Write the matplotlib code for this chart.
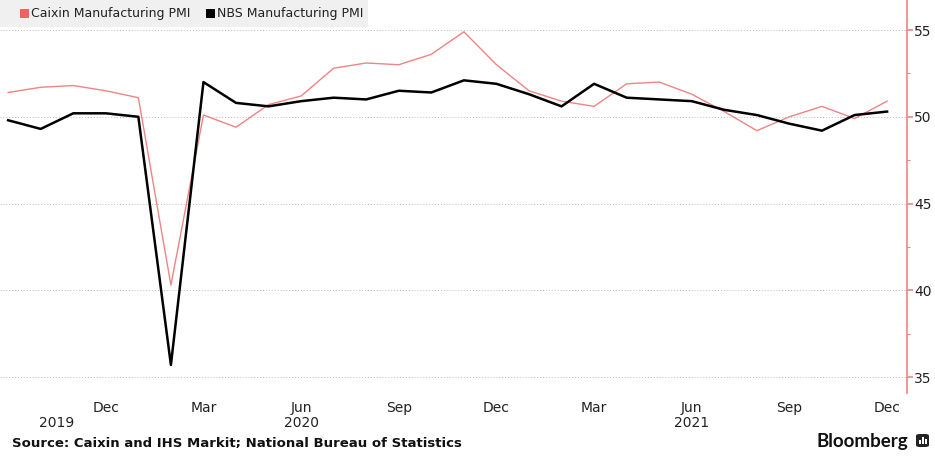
import matplotlib.pyplot as plt
from matplotlib.patches import Rectangle, FancyBboxPatch
from matplotlib.ticker import MultipleLocator
import numpy as np

months = ['Sep', 'Oct', 'Nov', 'Dec',
          'Jan', 'Feb', 'Mar', 'Apr', 'May', 'Jun', 'Jul', 'Aug', 'Sep', 'Oct', 'Nov', 'Dec',
          'Jan', 'Feb', 'Mar', 'Apr', 'May', 'Jun', 'Jul', 'Aug', 'Sep', 'Oct', 'Nov', 'Dec']
caixin = [51.4, 51.7, 51.8, 51.5,
          51.1, 40.3, 50.1, 49.4, 50.7, 51.2, 52.8, 53.1, 53.0, 53.6, 54.9, 53.0,
          51.5, 50.9, 50.6, 51.9, 52.0, 51.3, 50.3, 49.2, 50.0, 50.6, 49.9, 50.9]
nbs = [49.8, 49.3, 50.2, 50.2,
       50.0, 35.7, 52.0, 50.8, 50.6, 50.9, 51.1, 51.0, 51.5, 51.4, 52.1, 51.9,
       51.3, 50.6, 51.9, 51.1, 51.0, 50.9, 50.4, 50.1, 49.6, 49.2, 50.1, 50.3]
tick_months = ['Dec', 'Mar', 'Jun', 'Sep', 'Dec', 'Mar', 'Jun', 'Sep', 'Dec']
years = ['2019', '2020', '2021']
year_pos = [1.5, 9, 21]
series_names = ['Caixin Manufacturing PMI', 'NBS Manufacturing PMI']

pink = '#ef8484'
x = np.arange(len(months))
tick_idx = [3, 6, 9, 12, 15, 18, 21, 24, 27]

W, H = 935, 457
fig = plt.figure(figsize=(W / 100, H / 100), dpi=100)
ax = fig.add_axes([0.0, 0.14, 0.970, 0.86])

ax.plot(x, caixin, color=pink, lw=1.0)
ax.plot(x, nbs, color='black', lw=1.8)

ax.set_xlim(-0.25, 27.61)
ax.set_ylim(34.08, 56.73)

ax.yaxis.tick_right()
ax.yaxis.set_major_locator(MultipleLocator(5))
ax.yaxis.set_minor_locator(MultipleLocator(2.5))
ax.tick_params(axis='y', which='major', colors=pink, length=4, width=1.2,
               labelcolor='#222222', labelsize=10, pad=1)
ax.tick_params(axis='y', which='minor', colors=pink, length=2, width=0.8)
ax.grid(axis='y', which='major', color='#bbbbbb', ls=(0, (1, 2)), lw=0.7)

ax.set_xticks(tick_idx)
ax.set_xticklabels(tick_months)
ax.tick_params(axis='x', length=0, labelsize=10, labelcolor='#222222', pad=6)

for s in ['top', 'left', 'bottom']:
    ax.spines[s].set_visible(False)
ax.spines['right'].set_color(pink)
ax.spines['right'].set_linewidth(1.2)

for yr, p in zip(years, year_pos):
    ax.text(p, -0.058, yr, transform=ax.get_xaxis_transform(), ha='center', va='top',
            fontsize=10, color='#222222')

# legend box drawn in pixel coordinates
fig.patches.append(Rectangle((0, 1 - 27 / H), 368 / W, 27 / H, transform=fig.transFigure,
                             facecolor='#f0f0f0', edgecolor='none', zorder=5))
for px, col, name in zip([20, 206], ['#f06262', 'black'], series_names):
    fig.patches.append(Rectangle((px / W, 1 - 18 / H), 9 / W, 9 / H, transform=fig.transFigure,
                                 facecolor=col, edgecolor='none', zorder=6))
    fig.text((px + 11) / W, 1 - 13.5 / H, name, fontsize=9, color='#222222',
             va='center', ha='left', zorder=7)

fig.text(0.013, 0.022, 'Source: Caixin and IHS Markit; National Bureau of Statistics',
         fontsize=9.5, fontweight='bold', color='#111111')
fig.text(908 / W, 0.022, 'Bloomberg', fontsize=13.5, fontweight='bold', family='Lato',
         color='#111111', ha='right')
# small Bloomberg icon
fig.patches.append(FancyBboxPatch((916 / W, 10 / H), 13 / W, 13 / H, transform=fig.transFigure,
                                  boxstyle='round,pad=0,rounding_size=0.004',
                                  facecolor='#222222', edgecolor='none'))
for bx, bh in zip([919, 922, 925], [4, 7, 5]):
    fig.patches.append(Rectangle((bx / W, 13 / H), 1.6 / W, bh / H, transform=fig.transFigure,
                                 facecolor='white', edgecolor='none'))

fig.savefig('out.png', dpi=100)
